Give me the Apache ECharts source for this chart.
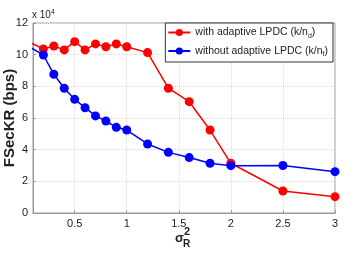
<!DOCTYPE html>
<html>
<head>
<meta charset="utf-8">
<script src="https://cdn.jsdelivr.net/npm/echarts@6/dist/echarts.min.js"></script>
<style>
  html, body { margin: 0; padding: 0; background: #fff; }
  #chart { width: 355px; height: 256px; }
</style>
</head>
<body>
<div id="chart"></div>
<script>
// sigma_R^2 values (x = 0 point lies left of the axis and is clipped)
var xWith = [0, 0.2, 0.3, 0.4, 0.5, 0.6, 0.7, 0.8, 0.9, 1.0, 1.2, 1.4, 1.6, 1.8, 2.0, 2.5, 3.0];
var yWith = [11.0, 10.36, 10.55, 10.3, 10.82, 10.3, 10.68, 10.5, 10.68, 10.5, 10.13, 7.88, 7.03, 5.24, 3.14, 1.39, 1.03];

var xWithout = [0, 0.2, 0.3, 0.4, 0.5, 0.6, 0.7, 0.8, 0.9, 1.0, 1.2, 1.4, 1.6, 1.8, 2.0, 2.5, 3.0];
var yWithout = [10.74, 9.98, 8.76, 7.88, 7.18, 6.65, 6.13, 5.81, 5.41, 5.24, 4.36, 3.83, 3.5, 3.14, 2.99, 3.0, 2.61];

var xTicks = [0.5, 1, 1.5, 2, 2.5, 3];

function pairs(xs, ys) {
    var out = [];
    for (var i = 0; i < xs.length; i++) {
        out.push([xs[i], ys[i]]);
    }
    return out;
}

var font = 'Liberation Sans, Arial, sans-serif';
var chart = echarts.init(document.getElementById('chart'));

var option = {
    animation: false,
    textStyle: { fontFamily: font },
    title: {
        left: 32,
        top: 9,
        padding: 0,
        text: '{a|x 10}{s|4}',
        textStyle: {
            fontWeight: 'normal',
            rich: {
                a: { fontSize: 10, color: '#222', fontWeight: 'normal', fontFamily: font },
                s: { fontSize: 7, color: '#222', fontWeight: 'normal', verticalAlign: 'top', padding: [0, 0, 6, 0], fontFamily: font }
            }
        }
    },
    grid: {
        left: 33,
        right: 20,
        top: 23,
        bottom: 43,
        outerBoundsMode: 'none',
        containLabel: false,
        show: true,
        borderColor: '#9a9a9a',
        borderWidth: 1
    },
    legend: {
        right: 22,
        top: 23,
        orient: 'vertical',
        backgroundColor: '#fff',
        borderColor: '#333',
        borderWidth: 1,
        padding: [4, 5, 4, 2],
        itemGap: 6,
        itemWidth: 22,
        itemHeight: 9,
        data: ['with', 'without'],
        formatter: function (name) {
            if (name === 'with') {
                return '{a|with adaptive LPDC (k/n}{s|d}{a|)}';
            }
            return '{a|without adaptive LPDC (k/n}{s|f}{a|)}';
        },
        textStyle: {
            rich: {
                a: { fontSize: 10.5, color: '#222', fontFamily: font, height: 13 },
                s: { fontSize: 7, color: '#222', verticalAlign: 'bottom', padding: [7, 0, 0, 0], fontFamily: font }
            }
        }
    },
    xAxis: {
        type: 'value',
        min: 0.1,
        max: 3,
        axisLine: { lineStyle: { color: '#9a9a9a' } },
        axisTick: { inside: true, length: 3, customValues: xTicks, lineStyle: { color: '#9a9a9a' } },
        axisLabel: { customValues: xTicks, color: '#222', fontSize: 11, margin: 5 },
        splitLine: { show: true, lineStyle: { color: '#dddddd', type: 'dotted' } }
    },
    yAxis: {
        type: 'value',
        min: 0,
        max: 12,
        interval: 2,
        name: 'FSecKR (bps)',
        nameLocation: 'middle',
        nameGap: 16,
        nameMoveOverlap: false,
        nameTextStyle: { fontSize: 15, fontWeight: 'bold', color: '#222' },
        axisLine: { show: true, lineStyle: { color: '#9a9a9a' } },
        axisTick: { show: true, inside: true, length: 3, lineStyle: { color: '#9a9a9a' } },
        axisLabel: { color: '#222', fontSize: 11, margin: 5 },
        splitLine: { show: true, lineStyle: { color: '#dddddd', type: 'dotted' } }
    },
    graphic: [
        { type: 'text', left: 175, top: 232, style: { text: 'σ', font: 'bold 13px ' + font, fill: '#222' } },
        { type: 'text', left: 184, top: 226, style: { text: '2', font: 'bold 11px ' + font, fill: '#222' } },
        { type: 'text', left: 183, top: 239, style: { text: 'R', font: 'bold 10px ' + font, fill: '#222' } }
    ],
    series: [
        {
            name: 'with',
            type: 'line',
            data: pairs(xWith, yWith),
            symbol: 'circle',
            symbolSize: 9,
            clip: true,
            lineStyle: { color: '#ff0000', width: 1.5 },
            itemStyle: { color: '#ff0000' }
        },
        {
            name: 'without',
            type: 'line',
            data: pairs(xWithout, yWithout),
            symbol: 'circle',
            symbolSize: 9,
            clip: true,
            lineStyle: { color: '#0000ff', width: 1.5 },
            itemStyle: { color: '#0000ff' }
        }
    ]
};

chart.setOption(option);
</script>
</body>
</html>
